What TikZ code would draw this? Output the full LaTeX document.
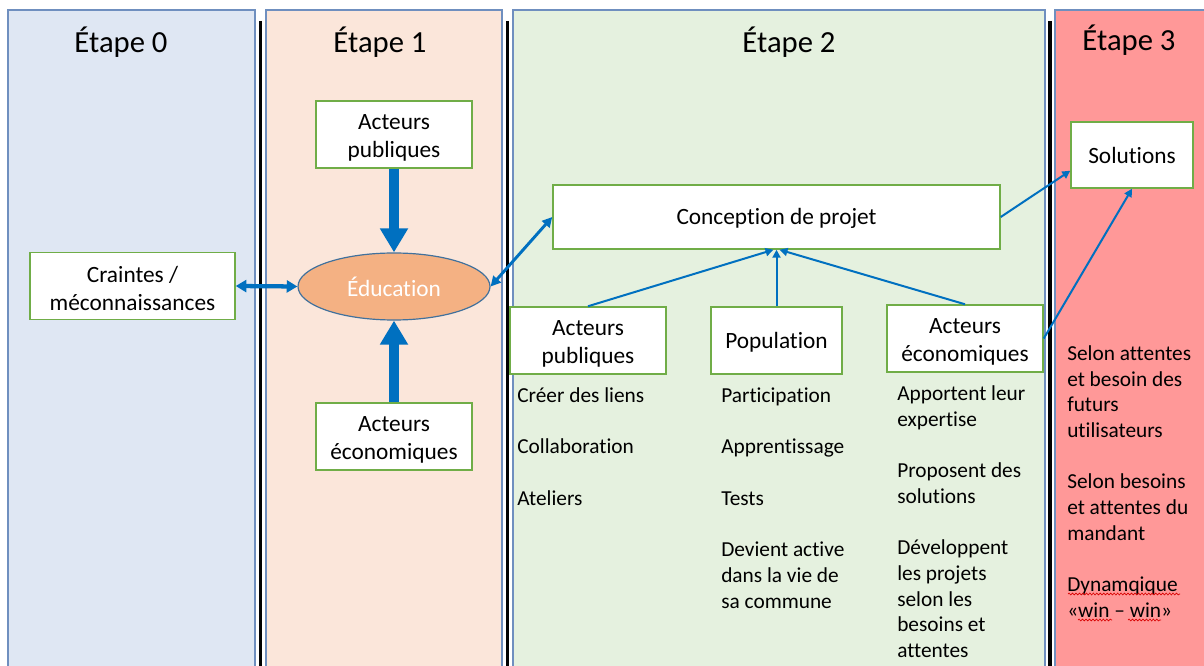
\documentclass[tikz,border=0pt]{standalone}
\usepackage{fontspec}
\setmainfont{Carlito}[RawFeature={-liga;-clig;-calt;-dlig}]
\usetikzlibrary{arrows.meta,shapes.geometric,decorations.pathmorphing}
\definecolor{pan0}{HTML}{DFE7F3}
\definecolor{pan1}{HTML}{FBE6DA}
\definecolor{pan2}{HTML}{E5F1DF}
\definecolor{pan3}{HTML}{FF9898}
\definecolor{panborder}{HTML}{6F8FBF}
\definecolor{boxgreen}{HTML}{70AD47}
\definecolor{arrowblue}{HTML}{0070C0}
\definecolor{edufill}{HTML}{F4B183}
\definecolor{eduborder}{HTML}{41719C}
\newdimen\pxu \pxu=0.75pt
\newcommand\tstrut{\rule{0pt}{16pt}}
\newcommand\sstrut{\rule{0pt}{15pt}}
\begin{document}
\begin{tikzpicture}[x=0.75pt,y=-0.75pt,
  panel/.style={draw=panborder, line width=1.1pt},
  sepline/.style={draw=black, line width=2.6pt},
  title/.style={anchor=base, inner sep=0pt, font=\fontsize{23}{27}\selectfont},
  box/.style={draw=boxgreen, line width=1.1pt, fill=white, inner sep=0pt, align=center, font=\fontsize{17.5}{21}\selectfont},
  lst/.style={anchor=north west, inner sep=0pt, align=left, font=\fontsize{16}{19.3}\selectfont},
  bigarrow/.style={draw=arrowblue, line width=8pt, -{Triangle[width=20pt,length=18pt]}},
  dblthick/.style={draw=arrowblue, line width=3.2pt, {Triangle[width=9pt,length=8pt]}-{Triangle[width=9pt,length=8pt]}},
  dblmed/.style={draw=arrowblue, line width=2.2pt, {Triangle[width=7.5pt,length=7.5pt]}-{Triangle[width=7.5pt,length=7.5pt]}},
  thinarrow/.style={draw=arrowblue, line width=1.5pt, -{Triangle[width=6pt,length=6pt]}},
  squig/.style={draw=red!85!black, line width=0.5pt, decorate, decoration={snake, amplitude=0.7pt, segment length=2.6pt}}
]
\useasboundingbox (0,0) rectangle (1204,666);
% panels
\path[panel, fill=pan0] (8,10) rectangle (255,680);
\path[panel, fill=pan1] (266,10) rectangle (502,680);
\path[panel, fill=pan2] (513,10) rectangle (1045,680);
\path[panel, fill=pan3] (1055,10) rectangle (1220,680);
\draw[sepline] (260.5,21) -- (260.5,680);
\draw[sepline] (507.5,21) -- (507.5,680);
\draw[sepline] (1050,21) -- (1050,680);
% titles
\node[title] (t0) at (121,53) {Étape 0};
\node[title] (t1) at (380,53) {Étape 1};
\node[title] (t2) at (789,53) {Étape 2};
\node[title] (t3) at (1129,51) {Étape 3};
% nodes
\node[box, minimum width=205\pxu, minimum height=67\pxu] (cr) at (132.5,286) {\tstrut Craintes /\\méconnaissances};
\node[box, minimum width=156\pxu, minimum height=67\pxu] (ap1) at (394,134.5) {\tstrut Acteurs\\publiques};
\node[ellipse, draw=eduborder, line width=0.9pt, fill=edufill, text=white, inner sep=0pt,
      minimum width=192\pxu, minimum height=67\pxu, font=\fontsize{17.5}{21}\selectfont] (edu) at (394,286.5) {Éducation};
\node[box, minimum width=156\pxu, minimum height=67\pxu] (ae1) at (394,436.5) {\tstrut Acteurs\\économiques};
\node[box, minimum width=447\pxu, minimum height=64\pxu] (conc) at (776.5,217) {\sstrut Conception de projet};
\node[box, minimum width=156\pxu, minimum height=67\pxu] (ap2) at (588,340.5) {\tstrut Acteurs\\publiques};
\node[box, minimum width=131\pxu, minimum height=67\pxu] (pop) at (776.5,340.5) {\sstrut Population};
\node[box, minimum width=156\pxu, minimum height=67\pxu] (ae2) at (965,338.5) {\tstrut Acteurs\\économiques};
\node[box, minimum width=122\pxu, minimum height=66\pxu] (sol) at (1132,155) {Solutions};
% lists
\node[lst] (l1) at (517,386) {\rule{0pt}{12pt}Créer des liens\\[19.3pt]Collaboration\\[19.3pt]Ateliers};
\node[lst] (l2) at (721,386) {\rule{0pt}{12pt}Participation\\[19.3pt]Apprentissage\\[19.3pt]Tests\\[19.3pt]Devient active\\dans la vie de\\sa commune};
\node[lst] (l3) at (897,384) {\rule{0pt}{12pt}Apportent leur\\expertise\\[19.3pt]Proposent des\\solutions\\[19.3pt]Développent\\les projets\\selon les\\besoins et\\attentes};
\node[lst] (l4) at (1067,344) {\rule{0pt}{12pt}Selon attentes\\et besoin des\\futurs\\utilisateurs\\[19.3pt]Selon besoins\\et attentes du\\mandant\\[19.3pt]Dynamqique\\«win – win»};
% spell-check squiggles
\draw[squig] (1068,594) -- (1180,594);
\draw[squig] (1078,620) -- (1112,620);
\draw[squig] (1128,620) -- (1161,620);
% connectors
\draw[bigarrow] (ap1.south) -- (edu.north);
\draw[bigarrow] (ae1.north) -- (edu.south);
\draw[dblthick] (cr.east) -- (edu.west);
\draw[dblmed] (edu.east) -- (conc.west);
\draw[thinarrow] (ap2.north) -- ([xshift=-3\pxu]conc.south);
\draw[thinarrow] (pop.north) -- (conc.south);
\draw[thinarrow] (ae2.north) -- ([xshift=3\pxu]conc.south);
\draw[thinarrow] (conc.east) -- ([yshift=18\pxu]sol.south west);
\draw[thinarrow] (ae2.east) -- (sol.south);
\end{tikzpicture}
\end{document}
